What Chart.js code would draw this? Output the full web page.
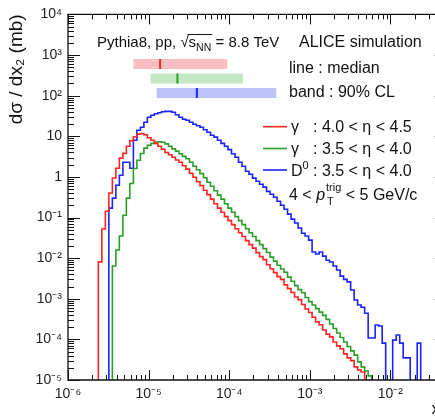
<!DOCTYPE html>
<html><head><meta charset="utf-8">
<script src="https://cdn.jsdelivr.net/npm/chart.js@4/dist/chart.umd.min.js"></script>
<style>html,body{margin:0;padding:0;overflow:hidden;background:#fff;width:435px;height:416px}canvas{display:block}</style>
</head><body>
<canvas id="c" width="460" height="416" style="width:460px;height:416px"></canvas>
<script>
// ---- axes ----
const X_MIN = 1e-6, X_MAX = 0.05;
const Y_MIN = 1e-5, Y_MAX = 1e4;
const xTickValues = [1e-6, 1e-5, 1e-4, 1e-3, 1e-2];
const xTickLabels = ['10⁻⁶', '10⁻⁵', '10⁻⁴', '10⁻³', '10⁻²'];
const yTickValues = [1e-5, 1e-4, 1e-3, 1e-2, 1e-1, 1, 10, 1e2, 1e3, 1e4];
const yTickLabels = ['10⁻⁵', '10⁻⁴', '10⁻³', '10⁻²', '10⁻¹', '1', '10', '10²', '10³', '10⁴'];

// ---- histogram binning (uniform in log10 x) ----
const BIN_LOG_START = -5.58;
const BIN_LOG_WIDTH = 1 / 23;

// ---- series: gamma 4.0<eta<4.5 (red) ----
const redStartBin = 0;
const redValues = [0.0081, 0.052, 0.143, 0.40, 0.94, 1.63, 2.9, 3.8, 5.7, 7.8, 9.7, 11.2, 11.7, 10.9, 9.2, 8.0,
  6.7, 5.7, 4.8, 4.0, 3.5, 3.05, 2.6, 2.3, 1.88, 1.55, 1.23, 0.98, 0.76, 0.61, 0.47, 0.365, 0.283, 0.219,
  0.170, 0.135, 0.105, 0.084, 0.067, 0.053, 0.042, 0.034, 0.027, 0.0215, 0.0176, 0.0137, 0.0109, 0.0092,
  0.0069, 0.0055, 0.0044, 0.0035, 0.0030, 0.0022, 0.00178, 0.00142, 0.0011, 0.00095, 0.00072, 0.00056,
  0.00046, 0.00035, 0.00027, 0.00023, 0.00017, 0.000135, 0.000115, 8.6e-5, 6.9e-5, 5.9e-5, 4.4e-5, 3.5e-5,
  3.0e-5, 2.1e-5, 1.76e-5, 1.57e-5, 0];

// ---- series: gamma 3.5<eta<4.0 (green) ----
const greenStartBin = 4;
const greenValues = [0.0064, 0.0158, 0.035, 0.114, 0.30, 0.69, 1.61, 2.57, 3.76, 5.1, 6.0, 6.7, 7.25, 7.3, 7.1,
  6.5, 5.7, 4.9, 4.3, 3.7, 3.2, 2.8, 2.3, 1.83, 1.50, 1.20, 0.95, 0.74, 0.59, 0.457, 0.355, 0.283, 0.219,
  0.170, 0.135, 0.105, 0.084, 0.067, 0.053, 0.042, 0.034, 0.027, 0.0215, 0.0171, 0.0138, 0.0106, 0.00845,
  0.0067, 0.0054, 0.0045, 0.0034, 0.0027, 0.0021, 0.00168, 0.0014, 0.00107, 0.00085, 0.0007, 0.00057,
  0.00047, 0.00039, 0.00031, 0.00024, 0.000185, 0.000143, 0.000111, 8.6e-5, 6.7e-5, 5.2e-5, 4.1e-5,
  2.8e-5, 2.1e-5, 1.67e-5, 1.26e-5, 0];

// ---- series: D0 3.5<eta<4.0 (blue) ----
const blueStartBin = 3;
const blueValues = [0.170, 0.30, 0.62, 1.10, 2.3, 2.3, 1.63, 8.0, 14.1, 16.7, 22.1, 29.3, 32.9, 35.7, 37.8,
  40, 41, 41, 38.9, 33.8, 29.3, 26.2, 24.8, 22.1, 19.7, 18.1, 16.7, 14.5, 12.6, 10.6, 9.5, 8.0, 6.7, 5.7,
  4.7, 3.7, 3.05, 2.3, 1.83, 1.38, 1.16, 0.93, 0.78, 0.66, 0.56, 0.44, 0.375, 0.316, 0.252, 0.201, 0.160,
  0.121, 0.091, 0.073, 0.055, 0.041, 0.035, 0.0277, 0.0141, 0.0126, 0.0141, 0.0112, 0.0089, 0.0080, 0.0064,
  0.0051, 0.0036, 0.0030, 0.0026, 0.00164, 0.00093, 0.0007, 0.00062, 0.00044, 0.000108, 0.000108,
  0.000225, 0.000213, 8.1e-5, 0, 0, 9.6e-5, 0.000128, 8.1e-5, 3.5e-5, 3.5e-5, 0, 0, 8.1e-5, 0];

// ---- median and 90% CL bands (x2) ----
const bandLow    = [6.5e-6, 1.06e-5, 1.26e-5];
const bandMedian = [1.39e-5, 2.28e-5, 3.97e-5];
const bandHigh   = [9.5e-5, 1.48e-4, 3.84e-4];

const seriesColors = ['rgb(255,35,35)', 'rgb(40,160,40)', 'rgb(25,35,255)'];
const bandColors = ['rgba(248,170,170,0.75)', 'rgba(170,220,170,0.7)', 'rgba(165,175,250,0.75)'];

const FONT = '"Liberation Sans", Arial, Helvetica, sans-serif';
const BELOW_AXIS = Y_MIN / 100; // empty bins are drawn below the axis floor

function edge(k) { return Math.pow(10, BIN_LOG_START + k * BIN_LOG_WIDTH); }
function histPoints(startBin, values) {
  const pts = [{x: edge(startBin - 1), y: BELOW_AXIS}];
  values.forEach((v, i) => pts.push({x: edge(startBin + i), y: v > 0 ? v : BELOW_AXIS}));
  pts.push({x: edge(startBin + values.length), y: BELOW_AXIS});
  return pts;
}
function ds(startBin, values, color) {
  return {data: histPoints(startBin, values), borderColor: color, borderWidth: 1.6,
          stepped: 'after', pointRadius: 0, fill: false, tension: 0};
}

function drawRich(ctx, x, y, parts) {
  let cx = x;
  for (const p of parts) {
    ctx.font = (p.style || '') + ' ' + p.size + 'px ' + FONT;
    ctx.fillText(p.t, cx, y + (p.dy || 0));
    cx += ctx.measureText(p.t).width;
  }
  return cx;
}

const framePlugin = {
  id: 'frame',
  afterDatasetsDraw(chart) {
    const {ctx, chartArea: {left, right, top, bottom}, scales: {x, y}} = chart;
    ctx.save();
    ctx.strokeStyle = '#111';
    ctx.lineWidth = 1.3;
    ctx.beginPath();
    ctx.rect(left, top, right - left, bottom - top);
    ctx.stroke();
    ctx.lineWidth = 1;
    ctx.beginPath();
    for (let e = -6; e <= -1; e++) {
      for (let m = 1; m <= 9; m++) {
        const v = m * Math.pow(10, e);
        if (v < X_MIN * 0.999 || v > X_MAX * 1.001) continue;
        const px = Math.round(x.getPixelForValue(v)) + 0.5;
        const len = m === 1 ? 10 : 5;
        ctx.moveTo(px, bottom); ctx.lineTo(px, bottom - len);
        ctx.moveTo(px, top); ctx.lineTo(px, top + len);
      }
    }
    for (let e = -5; e <= 4; e++) {
      for (let m = 1; m <= 9; m++) {
        const v = m * Math.pow(10, e);
        if (v < Y_MIN * 0.999 || v > Y_MAX * 1.001) continue;
        const py = Math.round(y.getPixelForValue(v)) + 0.5;
        const len = m === 1 ? 12 : 6;
        ctx.moveTo(left, py); ctx.lineTo(left + len, py);
        ctx.moveTo(right, py); ctx.lineTo(right - len, py);
      }
    }
    ctx.stroke();
    ctx.restore();
  }
};

const annotPlugin = {
  id: 'annot',
  afterDraw(chart) {
    const {ctx, scales: {x}} = chart;
    ctx.save();
    ctx.fillStyle = '#111';
    ctx.textBaseline = 'alphabetic';
    // header
    const endPre = drawRich(ctx, 97, 47, [{t: 'Pythia8, pp, ', size: 15}, {t: '√', size: 15}]);
    const endS = drawRich(ctx, endPre, 47, [{t: 's', size: 15}, {t: 'NN', size: 10.5, dy: 4}]);
    ctx.strokeStyle = '#111'; ctx.lineWidth = 1;
    ctx.beginPath(); ctx.moveTo(endPre - 1, 34.5); ctx.lineTo(endS + 1, 34.5); ctx.stroke();
    drawRich(ctx, endS, 47, [{t: ' = 8.8 TeV', size: 15}]);
    drawRich(ctx, 299, 47, [{t: 'ALICE simulation', size: 16}]);
    drawRich(ctx, 289, 73, [{t: 'line : median', size: 16}]);
    drawRich(ctx, 289, 97, [{t: 'band : 90% CL', size: 16}]);
    // bands
    const rowY = [64, 78.5, 93];
    for (let i = 0; i < 3; i++) {
      const x0 = x.getPixelForValue(bandLow[i]);
      const x1 = x.getPixelForValue(bandHigh[i]);
      const xm = x.getPixelForValue(bandMedian[i]);
      ctx.fillStyle = bandColors[i];
      ctx.fillRect(x0, rowY[i] - 5, x1 - x0, 10);
      ctx.strokeStyle = seriesColors[i];
      ctx.lineWidth = 2;
      ctx.beginPath(); ctx.moveTo(xm, rowY[i] - 5); ctx.lineTo(xm, rowY[i] + 5); ctx.stroke();
    }
    // legend
    const legY = [126.7, 148.5, 170];
    for (let i = 0; i < 3; i++) {
      ctx.strokeStyle = seriesColors[i];
      ctx.lineWidth = 1.6;
      ctx.beginPath(); ctx.moveTo(263, legY[i]); ctx.lineTo(287, legY[i]); ctx.stroke();
    }
    ctx.fillStyle = '#111';
    drawRich(ctx, 291, 131.5, [{t: 'γ', size: 16}]);
    drawRich(ctx, 313, 131.5, [{t: ': 4.0 < η < 4.5', size: 16}]);
    drawRich(ctx, 291, 153.5, [{t: 'γ', size: 16}]);
    drawRich(ctx, 313, 153.5, [{t: ': 3.5 < η < 4.0', size: 16}]);
    drawRich(ctx, 291, 176, [{t: 'D', size: 16}, {t: '0', size: 11, dy: -7}]);
    drawRich(ctx, 313, 176, [{t: ': 3.5 < η < 4.0', size: 16}]);
    const px = drawRich(ctx, 289, 200, [{t: '4 < ', size: 16}, {t: 'p', size: 16, style: 'italic'}]);
    const e1 = drawRich(ctx, px + 1, 200, [{t: 'trig', size: 11, dy: -9}]);
    drawRich(ctx, px + 2, 200, [{t: 'T', size: 11, dy: 5}]);
    drawRich(ctx, e1, 200, [{t: ' < 5 GeV/c', size: 16}]);
    ctx.restore();
  }
};

new Chart(document.getElementById('c'), {
  type: 'line',
  data: {datasets: [
    ds(redStartBin, redValues, seriesColors[0]),
    ds(greenStartBin, greenValues, seriesColors[1]),
    ds(blueStartBin, blueValues, seriesColors[2])
  ]},
  options: {
    responsive: false, animation: false, devicePixelRatio: 1,
    layout: {padding: {top: 14, right: 13.3, left: 0, bottom: 0}},
    plugins: {legend: {display: false}, tooltip: {enabled: false}},
    scales: {
      x: {
        type: 'logarithmic', min: X_MIN, max: X_MAX, position: 'bottom',
        afterBuildTicks: s => { s.ticks = xTickValues.map(v => ({value: v})); },
        afterFit: s => { s.height = 36; },
        ticks: {autoSkip: false, maxRotation: 0, padding: 6, color: '#222',
                font: {family: FONT, size: 14}, callback: (v, i) => xTickLabels[i]},
        grid: {display: false, drawTicks: false}, border: {display: false},
        title: {display: true, text: 'x₂', align: 'end', color: '#111',
                font: {family: FONT, size: 17, lineHeight: 0.75}, padding: {top: 0, bottom: 0}}
      },
      y: {
        type: 'logarithmic', min: Y_MIN, max: Y_MAX, position: 'left',
        afterBuildTicks: s => { s.ticks = yTickValues.map(v => ({value: v})); },
        afterFit: s => { s.width = 68; },
        ticks: {autoSkip: false, padding: 6, color: '#222',
                font: {family: FONT, size: 14}, callback: (v, i) => yTickLabels[i]},
        grid: {display: false, drawTicks: false}, border: {display: false},
        title: {display: true, text: 'dσ / dx₂ (mb)', align: 'end', color: '#111',
                font: {family: FONT, size: 19, lineHeight: 1.2}, padding: {top: 5, bottom: 0}}
      }
    }
  },
  plugins: [framePlugin, annotPlugin]
});
</script>
</body></html>
